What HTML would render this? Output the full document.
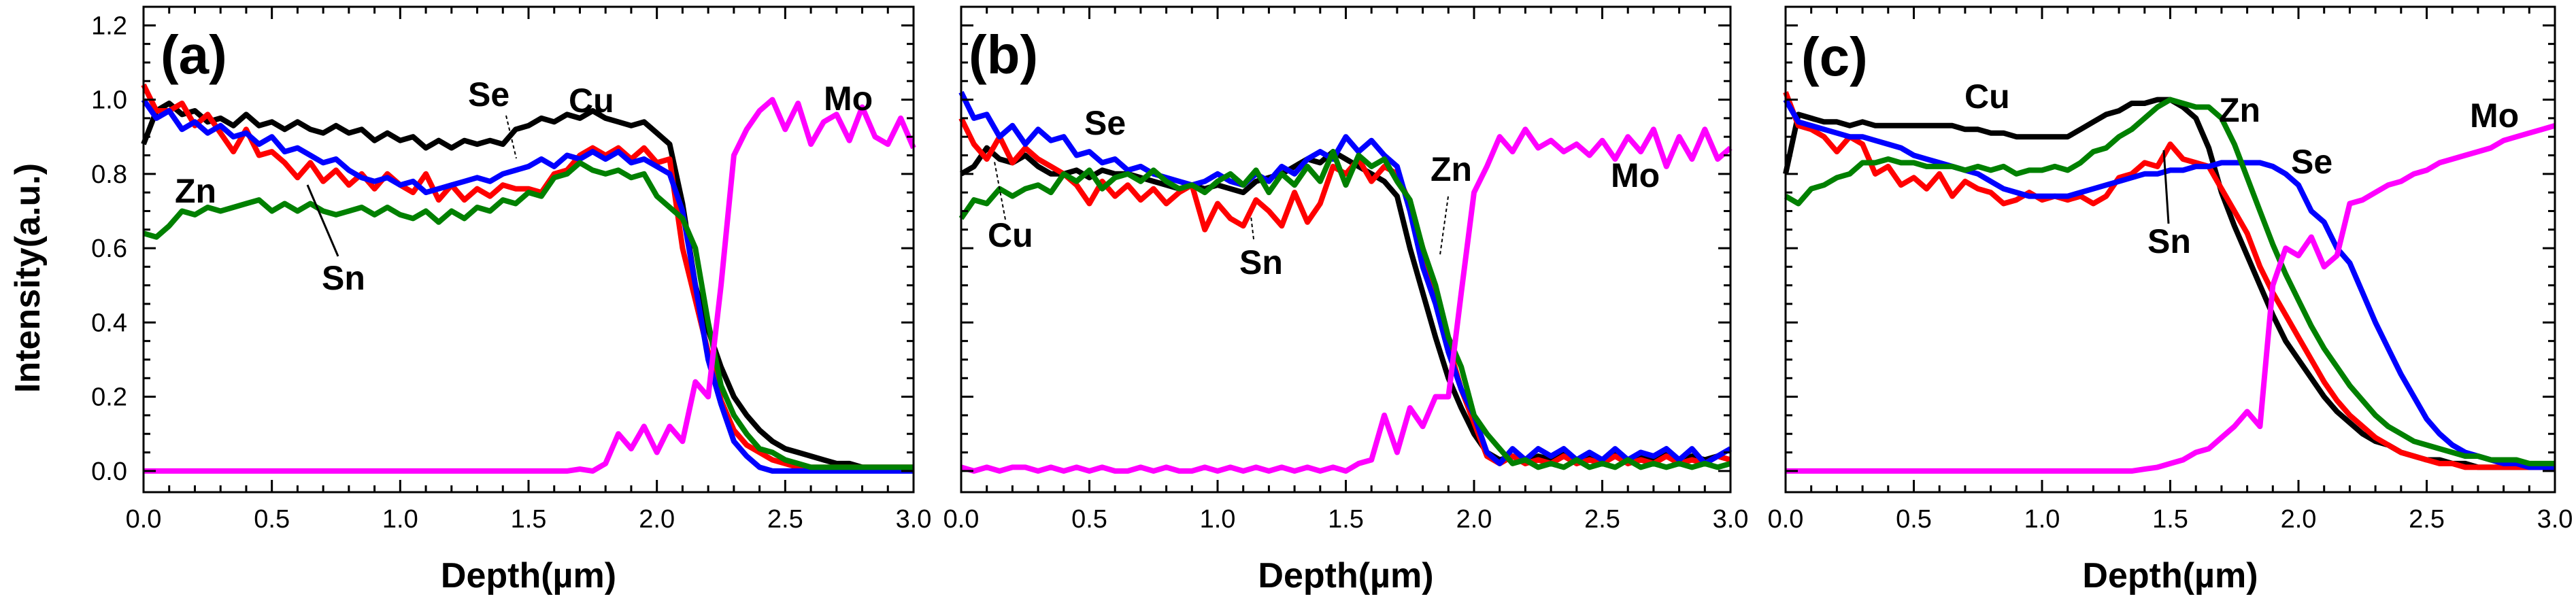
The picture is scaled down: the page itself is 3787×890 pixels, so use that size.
<!DOCTYPE html>
<html><head><meta charset="utf-8">
<style>
html,body{margin:0;padding:0;background:#fff;}
svg{display:block;}
text{font-family:"Liberation Sans",Arial,sans-serif;}
</style></head>
<body>
<svg id="chart" width="3787" height="890" viewBox="0 0 3787 890" xmlns="http://www.w3.org/2000/svg">
<text x="0" y="0" transform="translate(58,409) rotate(-90)" text-anchor="middle" font-size="52" font-weight="bold">Intensity(a.u.)</text>
</svg>
<script>
// x samples every 0.05 µm from 0 to 3.0
const depthStep = 0.05;
const xTicks = ["0.0","0.5","1.0","1.5","2.0","2.5","3.0"];
const yTicks = ["0.0","0.2","0.4","0.6","0.8","1.0","1.2"];

const aCu = [0.88,0.97,0.99,0.96,0.97,0.94,0.95,0.93,0.96,0.93,0.94,0.92,0.94,0.92,0.91,0.93,0.91,0.92,0.89,0.91,0.89,0.9,0.87,0.89,0.87,0.89,0.88,0.89,0.88,0.92,0.93,0.95,0.94,0.96,0.95,0.97,0.95,0.94,0.93,0.94,0.91,0.88,0.72,0.5,0.38,0.28,0.2,0.15,0.11,0.08,0.06,0.05,0.04,0.03,0.02,0.02,0.01,0.01,0.01,0.01,0.01];
const aSn = [1.04,0.97,0.97,0.99,0.93,0.96,0.91,0.86,0.92,0.85,0.86,0.83,0.79,0.83,0.78,0.81,0.77,0.8,0.76,0.8,0.77,0.75,0.8,0.73,0.77,0.73,0.76,0.74,0.77,0.76,0.76,0.75,0.8,0.81,0.85,0.87,0.85,0.87,0.84,0.87,0.83,0.84,0.6,0.46,0.32,0.19,0.11,0.07,0.05,0.03,0.02,0.01,0.01,0.01,0.01,0.01,0.01,0.01,0.01,0.01,0.01];
const aSe = [1.0,0.95,0.97,0.92,0.94,0.91,0.93,0.9,0.91,0.88,0.9,0.86,0.87,0.85,0.83,0.84,0.81,0.79,0.78,0.79,0.77,0.78,0.75,0.76,0.77,0.78,0.79,0.78,0.8,0.81,0.82,0.84,0.82,0.85,0.84,0.86,0.84,0.86,0.83,0.84,0.82,0.8,0.7,0.5,0.3,0.18,0.08,0.04,0.01,0,0,0,0,0,0,0,0,0,0,0,0];
const aZn = [0.64,0.63,0.66,0.7,0.69,0.71,0.7,0.71,0.72,0.73,0.7,0.72,0.7,0.72,0.7,0.69,0.7,0.71,0.69,0.71,0.69,0.68,0.7,0.67,0.7,0.68,0.71,0.7,0.73,0.72,0.75,0.74,0.79,0.8,0.83,0.81,0.8,0.81,0.79,0.8,0.74,0.71,0.68,0.6,0.4,0.23,0.15,0.1,0.06,0.05,0.03,0.02,0.01,0.01,0.01,0.01,0.01,0.01,0.01,0.01,0.01];
const aMo = [0,0,0,0,0,0,0,0,0,0,0,0,0,0,0,0,0,0,0,0,0,0,0,0,0,0,0,0,0,0,0,0,0,0,0.005,0,0.02,0.1,0.06,0.12,0.05,0.12,0.08,0.24,0.2,0.5,0.85,0.92,0.97,1.0,0.92,0.99,0.88,0.94,0.96,0.89,0.98,0.9,0.88,0.95,0.87];

const bCu = [0.8,0.82,0.87,0.84,0.83,0.85,0.82,0.8,0.8,0.81,0.79,0.81,0.8,0.8,0.79,0.78,0.77,0.76,0.77,0.76,0.77,0.76,0.75,0.78,0.79,0.8,0.82,0.84,0.83,0.86,0.84,0.82,0.8,0.78,0.74,0.6,0.48,0.36,0.25,0.17,0.1,0.05,0.03,0.04,0.02,0.04,0.03,0.05,0.02,0.04,0.03,0.05,0.02,0.04,0.03,0.05,0.02,0.04,0.03,0.04,0.03];
const bSe = [1.02,0.95,0.96,0.9,0.93,0.88,0.92,0.89,0.9,0.85,0.86,0.83,0.84,0.81,0.82,0.8,0.79,0.78,0.77,0.78,0.8,0.78,0.77,0.8,0.78,0.82,0.8,0.84,0.86,0.84,0.9,0.86,0.89,0.85,0.82,0.7,0.55,0.45,0.32,0.22,0.15,0.05,0.02,0.06,0.03,0.06,0.04,0.06,0.03,0.05,0.03,0.06,0.03,0.05,0.04,0.06,0.03,0.06,0.02,0.04,0.06];
const bSn = [0.95,0.88,0.84,0.9,0.83,0.87,0.84,0.82,0.8,0.77,0.72,0.78,0.74,0.77,0.73,0.76,0.72,0.75,0.77,0.65,0.72,0.68,0.66,0.73,0.7,0.66,0.75,0.67,0.72,0.82,0.8,0.84,0.78,0.82,0.8,0.72,0.6,0.48,0.34,0.22,0.13,0.04,0.02,0.04,0.02,0.03,0.02,0.04,0.02,0.03,0.02,0.04,0.02,0.03,0.02,0.04,0.02,0.03,0.02,0.04,0.03];
const bZn = [0.68,0.73,0.72,0.76,0.74,0.76,0.77,0.75,0.8,0.78,0.81,0.76,0.79,0.8,0.78,0.81,0.78,0.76,0.77,0.75,0.78,0.8,0.77,0.81,0.75,0.8,0.77,0.82,0.78,0.86,0.77,0.85,0.82,0.84,0.78,0.73,0.6,0.5,0.36,0.28,0.15,0.1,0.06,0.02,0.03,0.01,0.02,0.01,0.03,0.01,0.02,0.01,0.03,0.01,0.02,0.01,0.02,0.01,0.02,0.01,0.02];
const bMo = [0.01,0.0,0.01,0.0,0.01,0.01,0.0,0.01,0.0,0.01,0.0,0.01,0.0,0.0,0.01,0.0,0.01,0.0,0.0,0.01,0.0,0.01,0.0,0.01,0.0,0.01,0.0,0.01,0.0,0.01,0.0,0.02,0.03,0.15,0.05,0.17,0.12,0.2,0.2,0.48,0.75,0.82,0.9,0.86,0.92,0.87,0.89,0.86,0.88,0.85,0.89,0.84,0.9,0.86,0.92,0.82,0.9,0.84,0.92,0.84,0.87];

const cCu = [0.8,0.96,0.95,0.94,0.94,0.93,0.94,0.93,0.93,0.93,0.93,0.93,0.93,0.93,0.92,0.92,0.91,0.91,0.9,0.9,0.9,0.9,0.9,0.92,0.94,0.96,0.97,0.99,0.99,1.0,1.0,0.98,0.95,0.87,0.75,0.66,0.58,0.5,0.42,0.35,0.3,0.25,0.2,0.16,0.13,0.1,0.08,0.07,0.05,0.04,0.03,0.03,0.02,0.02,0.01,0.01,0.01,0.01,0.01,0.01,0.01];
const cSn = [1.02,0.93,0.92,0.9,0.86,0.9,0.88,0.8,0.82,0.77,0.79,0.76,0.8,0.74,0.78,0.76,0.75,0.72,0.73,0.75,0.73,0.74,0.73,0.74,0.72,0.74,0.79,0.8,0.83,0.82,0.88,0.84,0.83,0.82,0.76,0.7,0.64,0.55,0.48,0.42,0.36,0.3,0.24,0.19,0.15,0.12,0.09,0.07,0.05,0.04,0.03,0.02,0.02,0.01,0.01,0.01,0.01,0.01,0.01,0.01,0.01];
const cZn = [0.74,0.72,0.76,0.77,0.79,0.8,0.83,0.83,0.84,0.83,0.83,0.82,0.82,0.82,0.81,0.82,0.81,0.82,0.8,0.81,0.81,0.82,0.81,0.83,0.86,0.87,0.9,0.92,0.95,0.98,1.0,0.99,0.98,0.98,0.95,0.88,0.79,0.7,0.61,0.53,0.46,0.39,0.33,0.28,0.23,0.19,0.15,0.12,0.1,0.08,0.07,0.06,0.05,0.04,0.04,0.03,0.03,0.03,0.02,0.02,0.02];
const cSe = [1.0,0.94,0.93,0.92,0.91,0.9,0.9,0.89,0.88,0.87,0.85,0.84,0.83,0.82,0.81,0.8,0.78,0.76,0.75,0.74,0.74,0.74,0.74,0.75,0.76,0.77,0.78,0.79,0.8,0.8,0.81,0.81,0.82,0.82,0.83,0.83,0.83,0.83,0.82,0.8,0.77,0.7,0.67,0.6,0.56,0.48,0.4,0.33,0.26,0.2,0.14,0.1,0.07,0.05,0.04,0.03,0.02,0.02,0.01,0.01,0.01];
const cMo = [0,0,0,0,0,0,0,0,0,0,0,0,0,0,0,0,0,0,0,0,0,0,0,0,0,0,0,0,0.005,0.01,0.02,0.03,0.05,0.06,0.09,0.12,0.16,0.12,0.5,0.6,0.58,0.63,0.55,0.58,0.72,0.73,0.75,0.77,0.78,0.8,0.81,0.83,0.84,0.85,0.86,0.87,0.89,0.9,0.91,0.92,0.93];

const panels = [
 {id:"a", x0:211, x1:1343, series:[["Cu","#000",aCu],["Sn","#ff0000",aSn],["Se","#0000ff",aSe],["Zn","#008000",aZn],["Mo","#ff00ff",aMo]]},
 {id:"b", x0:1413, x1:2544, series:[["Cu","#000",bCu],["Sn","#ff0000",bSn],["Se","#0000ff",bSe],["Zn","#008000",bZn],["Mo","#ff00ff",bMo]]},
 {id:"c", x0:2625, x1:3756, series:[["Cu","#000",cCu],["Sn","#ff0000",cSn],["Se","#0000ff",cSe],["Zn","#008000",cZn],["Mo","#ff00ff",cMo]]}
];
const labels = {
 a:[["(a)",236,108,80],["Se",688,156,50],["Cu",836,165,50],["Mo",1211,162,50],["Zn",257,298,50],["Sn",473,426,50]],
 b:[["(b)",1424,108,80],["Se",1594,198,50],["Cu",1452,363,50],["Sn",1822,403,50],["Zn",2103,266,50],["Mo",2368,275,50]],
 c:[["(c)",2648,111,80],["Cu",2888,159,50],["Zn",3262,179,50],["Se",3368,255,50],["Mo",3631,187,50],["Sn",3157,372,50]]
};
const arrows = {
 a:[[497,377,452,272,false],[744,170,759,233,true]],
 b:[[1478,323,1462,238,true],[1843,352,1839,318,true],[2129,289,2117,375,true]],
 c:[[3188,329,3181,221,false]]
};

const NS="http://www.w3.org/2000/svg";
const svg=document.getElementById("chart");
const yTop=10, yBot=724, yMin=-0.057, yMax=1.25;
function ys(v){return yBot-(v-yMin)/(yMax-yMin)*(yBot-yTop);}
function mk(tag,attrs,parent){const e=document.createElementNS(NS,tag);for(const k in attrs)e.setAttribute(k,attrs[k]);(parent||svg).appendChild(e);return e;}

panels.forEach(p=>{
 const xs=v=>p.x0+v/3*(p.x1-p.x0);
 const g=mk("g",{});
 
 
 p.series.forEach(s=>{
  const pts=s[2].map((v,i)=>xs(i*depthStep).toFixed(1)+","+ys(v).toFixed(1)).join(" ");
  const pl=mk("polyline",{points:pts,fill:"none",stroke:s[1],"stroke-width":8,"stroke-linejoin":"round"},g);
  
  
 });
 const fr=mk("rect",{x:p.x0,y:yTop,width:p.x1-p.x0,height:yBot-yTop,fill:"none",stroke:"#000","stroke-width":3},g);
 
 
 for(let i=0;i<=30;i++){
  const v=i*0.1, x=xs(v), L=(i%5===0)?18:10;
  mk("line",{x1:x,y1:yBot,x2:x,y2:yBot-L,stroke:"#000","stroke-width":3},g);
  mk("line",{x1:x,y1:yTop,x2:x,y2:yTop+L,stroke:"#000","stroke-width":3},g);
 }
 xTicks.forEach((t,i)=>{
  const tx=mk("text",{x:xs(i*0.5),y:776,"text-anchor":"middle","font-size":38},g);
  tx.textContent=t;
  
  
 });
 for(let i=0;i<=24;i++){
  const v=i*0.05, y=ys(v), L=(i%4===0)?18:10;
  mk("line",{x1:p.x0,y1:y,x2:p.x0+L,y2:y,stroke:"#000","stroke-width":3},g);
  mk("line",{x1:p.x1,y1:y,x2:p.x1-L,y2:y,stroke:"#000","stroke-width":3},g);
 }
 if(p.id==="a"){
  yTicks.forEach((t,i)=>{
   const tx=mk("text",{x:p.x0-24,y:ys(i*0.2)+13,"text-anchor":"end","font-size":38},g);
   tx.textContent=t;
   
   
  });
 }
 const xt=mk("text",{x:(p.x0+p.x1)/2,y:864,"text-anchor":"middle","font-size":52,"font-weight":"bold"},g);
 xt.textContent="Depth(µm)";
 
 
 labels[p.id].forEach(l=>{
  const tx=mk("text",{x:l[1],y:l[2],"font-size":l[3],"font-weight":"bold"},g);
  tx.textContent=l[0];
  
  
 });
 arrows[p.id].forEach(a=>{
  const ln=mk("line",{x1:a[0],y1:a[1],x2:a[2],y2:a[3],stroke:"#000","stroke-width":a[4]?2:3,"stroke-dasharray":a[4]?"5,4":"none"},g);
  
  
 });
});
</script>
</body></html>
